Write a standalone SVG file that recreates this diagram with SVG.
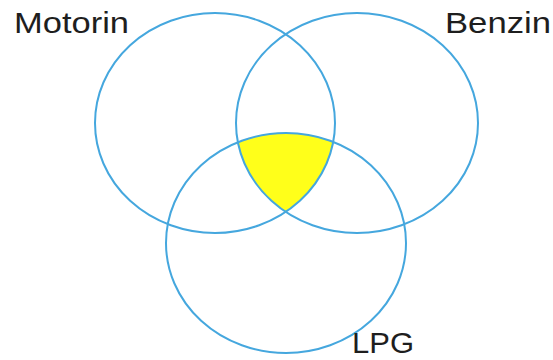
<svg xmlns="http://www.w3.org/2000/svg" width="553" height="360" viewBox="0 0 553 360">
<style>
.set{fill:none;stroke:#45a7de;stroke-width:2}
.lbl{font-family:"Liberation Sans",Arial,sans-serif;font-size:29px;fill:#1e1e1e}
</style>
<defs>
<clipPath id="cM"><ellipse cx="215" cy="123" rx="120" ry="110"/></clipPath>
<clipPath id="cB"><ellipse cx="357" cy="123" rx="121" ry="110"/></clipPath>
</defs>
<rect width="553" height="360" fill="#ffffff"/>
<g id="intersection" clip-path="url(#cM)">
<g clip-path="url(#cB)">
<ellipse cx="286" cy="243" rx="120" ry="110" fill="#ffff1a"/>
</g>
</g>
<g id="motorin">
<ellipse class="set" cx="215" cy="123" rx="120" ry="110"/>
<text class="lbl" x="14" y="33" textLength="115" lengthAdjust="spacingAndGlyphs">Motorin</text>
</g>
<g id="benzin">
<ellipse class="set" cx="357" cy="123" rx="121" ry="110"/>
<text class="lbl" x="445" y="33" textLength="106" lengthAdjust="spacingAndGlyphs">Benzin</text>
</g>
<g id="lpg">
<ellipse class="set" cx="286" cy="243" rx="120" ry="110"/>
<text class="lbl" x="352" y="353" textLength="62" lengthAdjust="spacingAndGlyphs">LPG</text>
</g>
<g id="connectors"></g>
</svg>
